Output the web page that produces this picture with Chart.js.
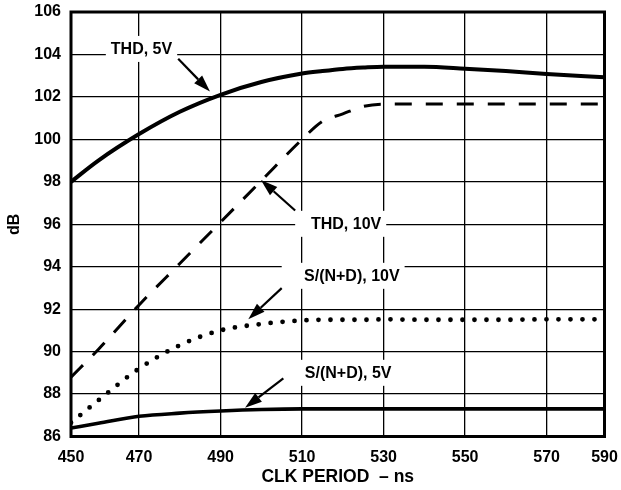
<!DOCTYPE html>
<html>
<head>
<meta charset="utf-8">
<script src="https://cdn.jsdelivr.net/npm/chart.js@4.4.1/dist/chart.umd.min.js"></script>
<style>
  html, body { margin: 0; padding: 0; background: #fff; }
</style>
</head>
<body>
<canvas id="chart" width="621" height="490"></canvas>
<script>
// CLK period (ns) where the curves were sampled; first/last sit on the plot edges
const clkPeriod = [453.3, 460, 470, 480, 490, 500, 510, 515, 520, 525, 530, 540, 550, 560, 570, 584.2];

// dB readings per curve
const thd5V  = [98.0, 99.0, 100.25, 101.3, 102.1, 102.7, 103.1, 103.22, 103.32, 103.38, 103.42, 103.42, 103.33, 103.22, 103.08, 102.93];
const thd10V = [88.8, 90.1, 92.2, 94.15, 96.1, 98.05, 100.0, 100.85, 101.2, 101.55, 101.66, 101.66, 101.66, 101.66, 101.66, 101.66];
const snd10V = [86.65, 87.7, 89.2, 90.3, 91.0, 91.3, 91.47, 91.5, 91.5, 91.5, 91.52, 91.5, 91.5, 91.5, 91.52, 91.52];
const snd5V  = [86.4, 86.62, 86.95, 87.1, 87.2, 87.27, 87.3, 87.3, 87.3, 87.3, 87.3, 87.3, 87.3, 87.3, 87.3, 87.3];

// axis ticks
const xTicks = [453.3, 470, 490, 510, 530, 550, 570, 584.2];
const xTickLabels = ['450', '470', '490', '510', '530', '550', '570', '590'];
const yTicks = [86, 88, 90, 92, 94, 96, 98, 100, 102, 104, 106];

// curve labels: text centre, arrow tail, arrow tip (data units)
const notes = [
    { text: 'THD, 5V',       at: [470.6, 104.26], tail: [479.6, 103.8],  tip: [487.4, 102.25] },
    { text: 'THD, 10V',      at: [520.8, 96.02],  tail: [508.3, 96.65],  tip: [499.9, 98.09] },
    { text: 'S/(N+D), 10V',  at: [522.2, 93.57],  tail: [505.0, 92.99],  tip: [496.8, 91.52] },
    { text: 'S/(N+D), 5V',   at: [521.3, 89.0],   tail: [505.4, 88.74],  tip: [496.0, 87.36] },
];

const FONT = '"Liberation Sans", Arial, Helvetica, sans-serif';
Chart.defaults.font.family = FONT;
Chart.defaults.font.weight = 'bold';
Chart.defaults.font.size = 16;
Chart.defaults.color = '#000';

const series = (vals) => clkPeriod.map((x, i) => ({ x, y: vals[i] }));

// white boxes behind labels, then text + arrows + frame on top
const notesPlugin = {
    id: 'notes',
    beforeDatasetsDraw(chart) {
        const { ctx, scales: { x, y } } = chart;
        ctx.save();
        ctx.font = 'bold 16px ' + FONT;
        ctx.fillStyle = '#fff';
        notes.forEach(n => {
            const cx = x.getPixelForValue(n.at[0]);
            const cy = y.getPixelForValue(n.at[1]);
            const w = ctx.measureText(n.text).width;
            const tx = x.getPixelForValue(n.tail[0]);
            const left = Math.min(cx - w / 2 - 5, tx);
            const right = cx + w / 2 + 5;
            ctx.fillRect(left, cy - 13, right - left, 26);
        });
        ctx.restore();
    },
    afterDatasetsDraw(chart) {
        const { ctx, chartArea: a, scales: { x, y } } = chart;
        ctx.save();
        ctx.font = 'bold 16px ' + FONT;
        ctx.fillStyle = '#000';
        ctx.strokeStyle = '#000';
        ctx.textAlign = 'center';
        ctx.textBaseline = 'middle';
        notes.forEach(n => {
            ctx.fillText(n.text, x.getPixelForValue(n.at[0]), y.getPixelForValue(n.at[1]) + 1);
            const x0 = x.getPixelForValue(n.tail[0]), y0 = y.getPixelForValue(n.tail[1]);
            const x1 = x.getPixelForValue(n.tip[0]), y1 = y.getPixelForValue(n.tip[1]);
            const ang = Math.atan2(y1 - y0, x1 - x0);
            const len = 17, hw = 5.5;
            const bx = x1 - len * Math.cos(ang), by = y1 - len * Math.sin(ang);
            ctx.lineWidth = 2.2;
            ctx.beginPath();
            ctx.moveTo(x0, y0);
            ctx.lineTo(bx, by);
            ctx.stroke();
            ctx.beginPath();
            ctx.moveTo(x1, y1);
            ctx.lineTo(bx + hw * Math.sin(ang), by - hw * Math.cos(ang));
            ctx.lineTo(bx - hw * Math.sin(ang), by + hw * Math.cos(ang));
            ctx.closePath();
            ctx.fill();
        });
        // heavy frame round the plot
        ctx.lineWidth = 3;
        ctx.strokeRect(a.left, a.top, a.right - a.left, a.bottom - a.top);
        ctx.restore();
    }
};

new Chart(document.getElementById('chart'), {
    type: 'line',
    data: {
        datasets: [
            { label: 'THD, 5V', data: series(thd5V), borderColor: '#000', borderWidth: 4 },
            { label: 'THD, 10V', data: series(thd10V), borderColor: '#000', borderWidth: 3, borderDash: [17, 14] },
            { label: 'S/(N+D), 10V', data: series(snd10V), borderColor: '#000', borderWidth: 4.8,
              borderDash: [0, 12], borderCapStyle: 'round' },
            { label: 'S/(N+D), 5V', data: series(snd5V), borderColor: '#000', borderWidth: 3.6 },
        ],
    },
    options: {
        responsive: false,
        animation: false,
        events: [],
        layout: { padding: { top: 12, right: 16.5, bottom: 0, left: 0 } },
        elements: {
            point: { radius: 0 },
            line: { cubicInterpolationMode: 'monotone', fill: false },
        },
        plugins: { legend: { display: false }, tooltip: { enabled: false } },
        scales: {
            x: {
                type: 'linear',
                min: xTicks[0],
                max: xTicks[xTicks.length - 1],
                afterBuildTicks: s => { s.ticks = xTicks.map(v => ({ value: v })); },
                // fixed height, and no extra room claimed for the end labels
                afterFit: s => { s.height = 53.5; s.paddingLeft = 0; s.paddingRight = 0; },
                ticks: {
                    autoSkip: false,
                    maxRotation: 0,
                    padding: 11,
                    callback: (v, i) => xTickLabels[i],
                },
                grid: { color: '#000', lineWidth: 1.3, drawTicks: false },
                border: { display: false },
                title: { display: true, text: 'CLK PERIOD  – ns', font: { size: 17.5, weight: 'bold' }, padding: { top: 0, bottom: 2 } },
            },
            y: {
                min: 86,
                max: 106,
                afterBuildTicks: s => { s.ticks = yTicks.map(v => ({ value: v })); },
                afterFit: s => { s.width = 71; s.paddingTop = 0; s.paddingBottom = 0; },
                ticks: { padding: 10, callback: v => v },
                grid: { color: '#000', lineWidth: 1.3, drawTicks: false },
                border: { display: false },
                title: { display: true, text: 'dB', font: { size: 16, weight: 'bold' }, padding: { top: 5, bottom: 0 } },
            },
        },
    },
    plugins: [notesPlugin],
});
</script>
</body>
</html>
